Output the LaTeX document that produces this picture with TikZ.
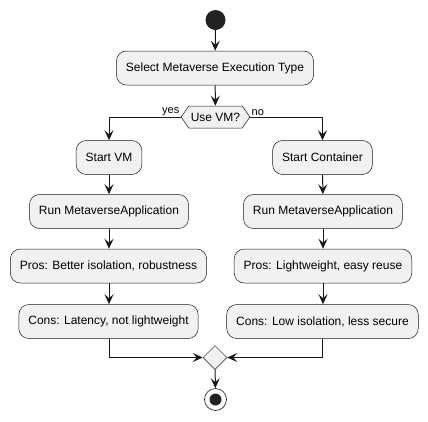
\documentclass[tikz,border=0pt]{standalone}
\usepackage{fontspec}
\setmainfont{Liberation Sans}
\usetikzlibrary{arrows.meta,shapes.geometric,shapes.symbols}
\definecolor{boxfill}{HTML}{F1F1F1}
\definecolor{ink}{HTML}{181818}
\definecolor{dotclr}{HTML}{222222}
\begin{document}
\begin{tikzpicture}[x=1pt, y=-1pt,
	act/.style={rounded corners=10pt, draw=ink, line width=0.5pt, fill=boxfill, minimum height=34pt, inner xsep=9.5pt, font=\fontsize{12}{14}\selectfont},
	flow/.style={draw=ink, line width=1pt, -{Stealth[length=10pt,width=9pt,inset=4pt]}},
	lbl/.style={font=\fontsize{11}{13}\selectfont, inner sep=1pt}]
	\useasboundingbox (0,0) rectangle (428,421);

	\node[circle, fill=dotclr, minimum size=20pt, inner sep=0pt] (start) at (215.5,20) {};
	\node[act] (select) at (215,68) {Select Metaverse Execution Type};
	\node[signal, signal to=west and east, signal pointer angle=110, draw=ink, line width=0.5pt, fill=boxfill, minimum width=67pt, minimum height=22pt, inner xsep=2pt, font=\fontsize{12}{14}\selectfont] (usevm) at (215.5,117) {Use VM?};

	\node[act] (vm) at (109,157.5) {Start VM};
	\node[act] (runvm) at (109,211.5) {Run MetaverseApplication};
	\node[act] (prosvm) at (108.5,266) {Pros: Better isolation, robustness};
	\node[act] (consvm) at (108.5,321.5) {Cons: Latency, not lightweight};

	\node[act] (ct) at (322.5,157.5) {Start Container};
	\node[act] (runct) at (323,211.5) {Run MetaverseApplication};
	\node[act] (prosct) at (323,266) {Pros: Lightweight, easy reuse};
	\node[act] (consct) at (322.5,321.5) {Cons: Low isolation, less secure};

	\node[diamond, draw=ink, line width=0.5pt, fill=boxfill, minimum size=24pt, inner sep=0pt] (merge) at (215,357.5) {};
	\node[circle, draw=ink, line width=0.6pt, fill=white, minimum size=22pt, inner sep=0pt] (stop) at (215.5,399.5) {};
	\node[circle, fill=dotclr, minimum size=12pt, inner sep=0pt] (stopdot) at (stop) {};

	\draw[flow] (start) -- (select);
	\draw[flow] (select) -- (usevm);
	\draw[flow] (usevm.west) -| (vm) node[pos=0, above left, lbl] {yes};
	\draw[flow] (usevm.east) -| (ct) node[pos=0, above right, lbl] {no};

	\draw[flow] (vm) -- (runvm);
	\draw[flow] (runvm) -- (prosvm.north -| runvm);
	\draw[flow] (prosvm.south -| runvm) -- (consvm.north -| runvm);
	\draw[flow] (ct) -- (runct);
	\draw[flow] (runct) -- (prosct);
	\draw[flow] (prosct) -- (consct.north -| prosct);

	\draw[flow] (consvm.south -| runvm) |- (merge.west);
	\draw[flow] (consct.south -| ct) |- (merge.east);
	\draw[flow] (merge) -- (stop);
\end{tikzpicture}
\end{document}
